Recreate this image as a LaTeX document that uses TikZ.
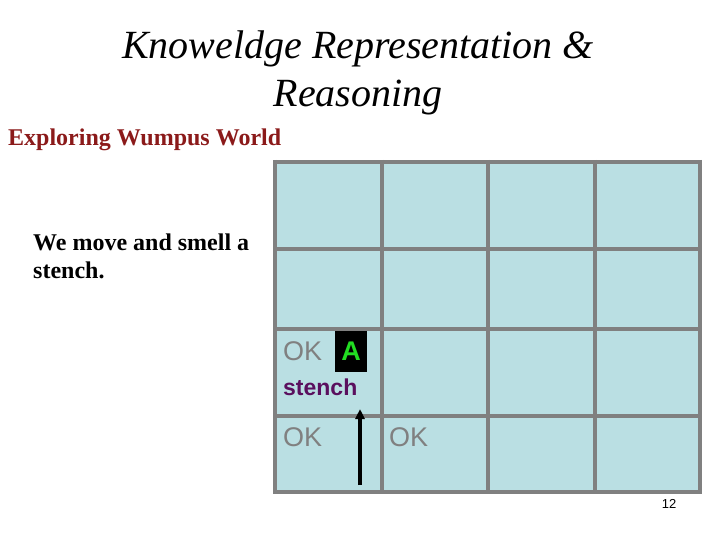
\documentclass[tikz,border=0pt]{standalone}
\usepackage{fontspec}
\setmainfont{Liberation Serif}
\setsansfont{Liberation Sans}
\usetikzlibrary{positioning, arrows.meta}

\definecolor{cellblue}{HTML}{BADFE3}
\definecolor{gridgray}{HTML}{808080}
\definecolor{headred}{HTML}{8B1A1A}
\definecolor{stenchpurple}{HTML}{5A0F5E}
\definecolor{agentgreen}{HTML}{22DD22}

\begin{document}
\begin{tikzpicture}[x=1pt,y=-1pt,
		title/.style={font=\fontsize{40}{48}\selectfont\itshape,align=center,inner sep=0pt,anchor=base},
		heading/.style={font=\fontsize{24}{28}\selectfont\bfseries,text=headred,inner sep=0pt,anchor=base west},
		note/.style={font=\fontsize{24}{28}\selectfont\bfseries,align=left,inner sep=0pt,anchor=base west},
		oklabel/.style={font=\sffamily\fontsize{27}{30}\selectfont,text=gridgray,inner sep=0pt,anchor=west},
		agent/.style={fill=black,text=agentgreen,font=\sffamily\bfseries\fontsize{27}{30}\selectfont,minimum width=32pt,minimum height=41pt,inner sep=0pt},
		percept/.style={font=\sffamily\bfseries\fontsize{23}{26}\selectfont,text=stenchpurple,inner sep=0pt,anchor=west},
		move/.style={line width=3.5pt,-{Triangle[length=10pt,width=9pt]}}
		]
		\useasboundingbox (0,0) rectangle (720,540);
		
		% Title
		\node[title] (title) at (358,107) {Knoweldge Representation \&\\Reasoning};
		\node[heading] (heading) at (8,146) {Exploring Wumpus World};
		\node[note] (note) at (33,278) {We move and smell a\\stench.};
		
		% Grid
		\fill[cellblue] (275,162) rectangle (700,492);
		\foreach \x in {275,382,488,595,700}
			\draw[gridgray,line width=4pt] (\x,160) -- (\x,494);
		\foreach \y in {162,249,329,416,492}
			\draw[gridgray,line width=4pt] (273,\y) -- (702,\y);
		
		% Cell contents
		\node[oklabel] (ok21) at (283,351) {OK};
		\node[agent] (agent) at (351,351) {A};
		\node[percept] (stench) at (283,387) {stench};
		\node[oklabel] (ok11) at (283,437) {OK};
		\node[oklabel] (ok12) at (389,437) {OK};
		
		% Move
		\coordinate (start) at (360,485);
		\coordinate (stop) at (360,409);
		\draw[move] (start) -- (stop);
		
		\node[font=\sffamily\fontsize{13}{15}\selectfont] (page) at (669,504) {12};
	\end{tikzpicture}
\end{document}
